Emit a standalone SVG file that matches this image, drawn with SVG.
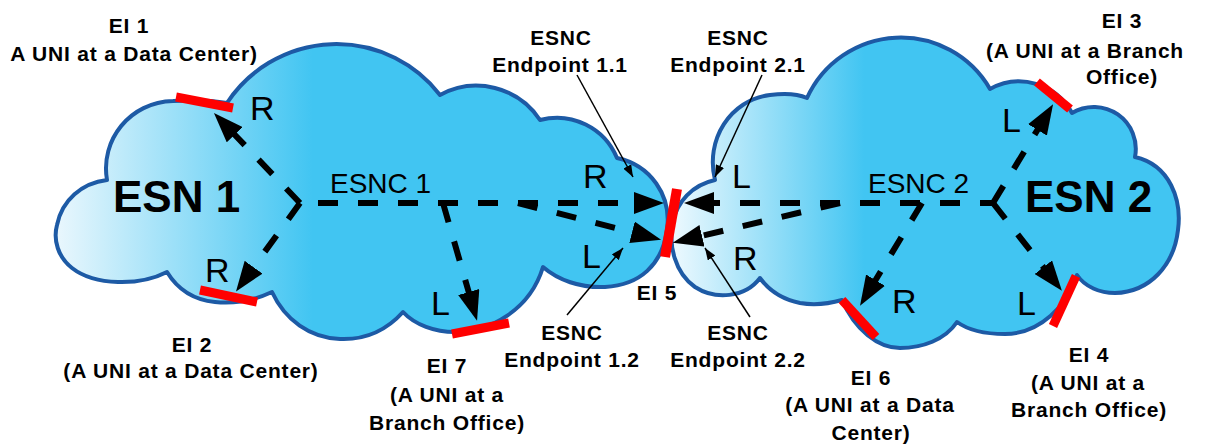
<svg xmlns="http://www.w3.org/2000/svg" width="1205" height="445" viewBox="0 0 1205 445">
<defs>
<linearGradient id="g1" x1="0" y1="0" x2="1" y2="0">
<stop offset="0" stop-color="#EAF7FD"/><stop offset="0.42" stop-color="#41C5F2"/><stop offset="1" stop-color="#41C5F2"/>
</linearGradient>
<linearGradient id="g2" x1="0" y1="0" x2="1" y2="0">
<stop offset="0" stop-color="#EEF9FE"/><stop offset="0.38" stop-color="#41C5F2"/><stop offset="1" stop-color="#41C5F2"/>
</linearGradient>
<marker id="big" viewBox="0 0 30 22" refX="1" refY="11" markerWidth="30" markerHeight="22" markerUnits="userSpaceOnUse" orient="auto">
<path d="M0,0 L30,11 L0,22 Z" fill="#000"/>
</marker>
<marker id="small" viewBox="0 0 12 9" refX="12" refY="4.5" markerWidth="12" markerHeight="9" markerUnits="userSpaceOnUse" orient="auto">
<path d="M0,0 L12,4.5 L0,9 Z" fill="#000"/>
</marker>
</defs>
<style>
.cloud{stroke:#1D5AA5;stroke-width:4;stroke-linejoin:round}
.bar{stroke:#FF0000;stroke-width:9;fill:none}
.dash{stroke:#000;stroke-width:6;fill:none;stroke-dasharray:20 20;marker-end:url(#big)}
.call{stroke:#000;stroke-width:1.5;fill:none;marker-end:url(#small)}
.lbl{font-family:"Liberation Sans",Arial,sans-serif;font-weight:bold;font-size:21px;letter-spacing:0.8px;text-anchor:middle;fill:#000}
.rl{font-family:"Liberation Sans",Arial,sans-serif;font-size:34px;fill:#000}
.esnc{font-family:"Liberation Sans",Arial,sans-serif;font-size:28px;fill:#000}
.esn{font-family:"Liberation Sans",Arial,sans-serif;font-weight:bold;font-size:44px;fill:#000}
</style>
<rect width="1205" height="445" fill="#fff"/>

<g id="esn1">
<path class="cloud" fill="url(#g1)" d="M167,272 C140,286 95,286 72,268 C58,257 53,240 57,225 C62,200 82,183 107,180 C100,140 130,102 173,101 C195,100 215,101 227,103 A131,131 0 0 1 440,95 A76,76 0 0 1 540,120 A65,65 0 0 1 617,158 C650,165 672,195 667,230 C662,265 640,285 605,287 C580,288 558,280 543,267 C530,310 490,332 455,332 C435,332 415,325 403,312 C385,332 365,340 340,339 C310,338 285,320 272,292 C255,300 235,304 215,302 C195,300 178,290 167,272 Z"/>
<text class="esn" x="113" y="212">ESN 1</text>
</g>
<g id="esn2">
<path class="cloud" fill="url(#g2)" d="M715,180 C705,140 730,100 770,95 C785,93 798,94 807,98 A103,103 0 0 1 990,89 A60,60 0 0 1 1072,113 A42,42 0 0 1 1135,157 C1170,165 1182,200 1178,230 C1174,265 1150,292 1115,293 C1100,293 1085,287 1077,275 C1068,305 1040,334 1005,334 C985,334 968,330 957,322 C945,340 922,348 900,348 C878,348 855,330 842,300 C828,304 812,305 800,303 C785,300 770,292 760,278 C745,298 715,300 695,287 C675,273 668,245 673,222 C677,202 692,185 715,180 Z"/>
<text class="esn" x="1025" y="212">ESN 2</text>
</g>

<g id="ei1">
<line class="bar" x1="176" y1="97" x2="233" y2="108"/>
<text class="lbl" x="129" y="33">EI 1</text>
<text class="lbl" x="134" y="61">A UNI at a Data Center)</text>
</g>
<g id="ei2">
<line class="bar" x1="200" y1="290" x2="257" y2="302"/>
<text class="lbl" x="192" y="352">EI 2</text>
<text class="lbl" x="191" y="378">(A UNI at a Data Center)</text>
</g>
<g id="ei7">
<line class="bar" x1="452" y1="334" x2="509" y2="323"/>
<text class="lbl" x="447" y="373">EI 7</text>
<text class="lbl" x="447" y="402">(A UNI at a</text>
<text class="lbl" x="447" y="430">Branch Office)</text>
</g>
<g id="ei5">
<line class="bar" x1="677" y1="189" x2="665" y2="257" style="stroke-width:10"/>
<text class="lbl" x="657" y="300">EI 5</text>
</g>
<g id="ei3">
<line class="bar" x1="1037" y1="82" x2="1070" y2="109"/>
<text class="lbl" x="1122" y="28">EI 3</text>
<text class="lbl" x="1085" y="58">(A UNI at a Branch</text>
<text class="lbl" x="1122" y="84">Office)</text>
</g>
<g id="ei4">
<line class="bar" x1="1076" y1="276" x2="1053" y2="326"/>
<text class="lbl" x="1089" y="362">EI 4</text>
<text class="lbl" x="1088" y="390">(A UNI at a</text>
<text class="lbl" x="1089" y="417">Branch Office)</text>
</g>
<g id="ei6">
<line class="bar" x1="842" y1="300" x2="876" y2="337"/>
<text class="lbl" x="871" y="385">EI 6</text>
<text class="lbl" x="870" y="412">(A UNI at a Data</text>
<text class="lbl" x="871" y="440">Center)</text>
</g>
<g id="ep11">
<text class="lbl" x="561" y="45">ESNC</text>
<text class="lbl" x="560" y="72">Endpoint 1.1</text>
</g>
<g id="ep21">
<text class="lbl" x="738" y="45">ESNC</text>
<text class="lbl" x="738" y="72">Endpoint 2.1</text>
</g>
<g id="ep12">
<text class="lbl" x="572" y="340">ESNC</text>
<text class="lbl" x="572" y="367">Endpoint 1.2</text>
</g>
<g id="ep22">
<text class="lbl" x="738" y="340">ESNC</text>
<text class="lbl" x="738" y="367">Endpoint 2.2</text>
</g>

<g id="connectors">
<path class="dash" d="M300,203 L635,203" style="stroke-dashoffset:22"/>
<path class="dash" d="M300,203 L234,134"/>
<path class="dash" d="M300,203 L253,268"/>
<path class="dash" d="M443,203 L469,293"/>
<path class="dash" d="M518,203 L633,232.5"/>
<path class="dash" d="M993,203 L713,203" style="stroke-dashoffset:7"/>
<path class="dash" d="M993,203 L1038,129"/>
<path class="dash" d="M993,203 L1044,268"/>
<path class="dash" d="M922,203 L875,281"/>
<path class="dash" d="M840,203 L701,236"/>
<line class="call" x1="577" y1="75" x2="633" y2="177"/>
<line class="call" x1="762" y1="75" x2="715" y2="177"/>
<line class="call" x1="567" y1="315" x2="623" y2="248"/>
<line class="call" x1="750" y1="317" x2="705" y2="248"/>
<text class="esnc" x="330" y="193">ESNC 1</text>
<text class="esnc" x="868" y="193">ESNC 2</text>
<text class="rl" x="250" y="120">R</text>
<text class="rl" x="205" y="282">R</text>
<text class="rl" x="431" y="315">L</text>
<text class="rl" x="583" y="188">R</text>
<text class="rl" x="582" y="268">L</text>
<text class="rl" x="732" y="188">L</text>
<text class="rl" x="733" y="270">R</text>
<text class="rl" x="1002" y="132">L</text>
<text class="rl" x="892" y="313">R</text>
<text class="rl" x="1017" y="315">L</text>
</g>
</svg>
